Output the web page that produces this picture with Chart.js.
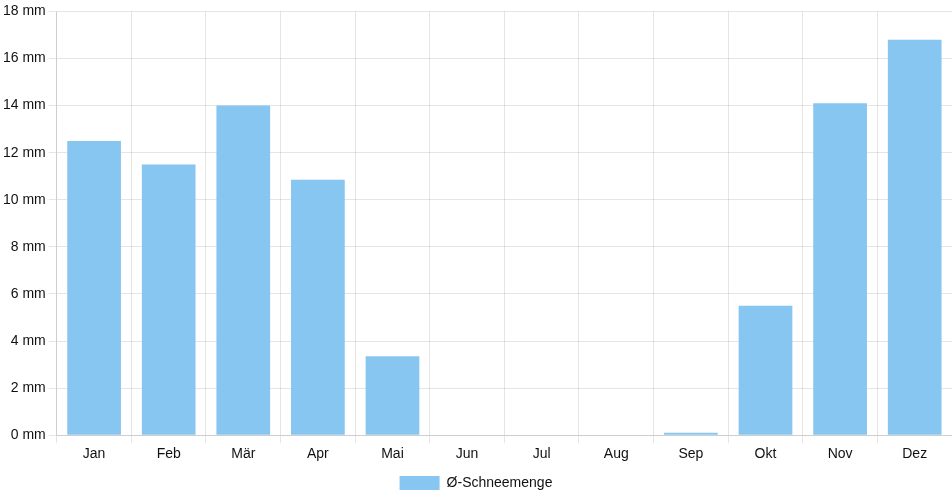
<!DOCTYPE html>
<html>
<head>
<meta charset="utf-8">
<script src="https://cdn.jsdelivr.net/npm/chart.js@4/dist/chart.umd.min.js"></script>
<style>
  html, body { margin: 0; padding: 0; background: #fff; }
  #wrap { width: 952px; height: 500px; }
</style>
</head>
<body>
<div id="wrap"><canvas id="snowChart"></canvas></div>
<script>
var months = ['Jan', 'Feb', 'Mär', 'Apr', 'Mai', 'Jun', 'Jul', 'Aug', 'Sep', 'Okt', 'Nov', 'Dez'];
var snowAmount = [12.5, 11.5, 14.0, 10.85, 3.35, 0, 0, 0, 0.1, 5.5, 14.1, 16.8];
var seriesLabel = 'Ø-Schneemenge';

Chart.defaults.font.family = '"Liberation Sans", Arial, Helvetica, sans-serif';
Chart.defaults.font.size = 14;
Chart.defaults.color = '#111';

new Chart(document.getElementById('snowChart'), {
    type: 'bar',
    data: {
        labels: months,
        datasets: [{
            label: seriesLabel,
            data: snowAmount,
            backgroundColor: '#88c6f2',
            borderWidth: 0
        }]
    },
    options: {
        responsive: true,
        maintainAspectRatio: false,
        animation: false,
        plugins: {
            legend: {
                position: 'bottom'
            },
            tooltip: { enabled: false }
        },
        scales: {
            y: {
                min: 0,
                max: 18,
                ticks: {
                    stepSize: 2,
                    callback: function(value) { return value + ' mm'; }
                }
            }
        }
    }
});
</script>
</body>
</html>
